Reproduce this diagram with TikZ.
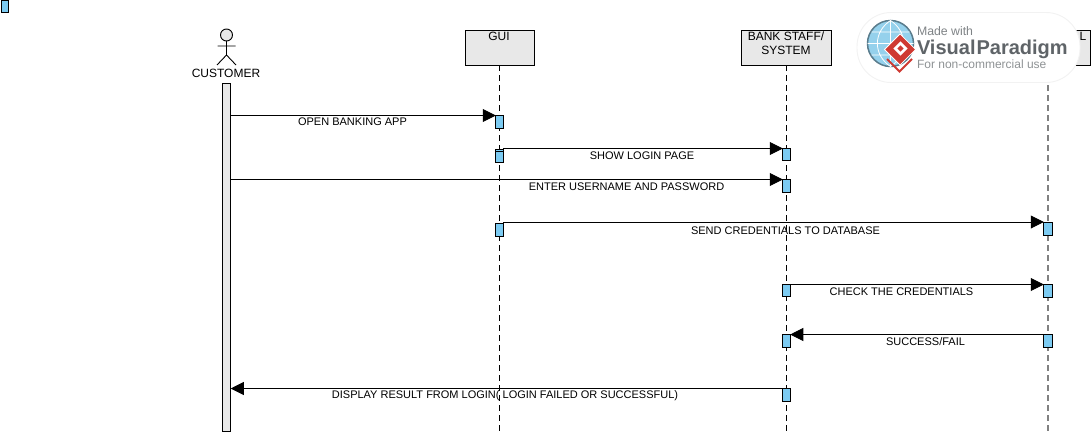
\documentclass[tikz,border=0pt]{standalone}
\usepackage{fontspec}
\setmainfont{Liberation Sans}
\usetikzlibrary{arrows.meta}
\definecolor{barblue}{HTML}{7CCBF2}
\definecolor{boxgray}{HTML}{E8E8E8}
\definecolor{logoblue}{HTML}{4FB3E0}
\definecolor{logored}{HTML}{CF3A32}
\definecolor{logogray}{HTML}{5F6468}

\begin{document}
\begin{tikzpicture}[x=1pt, y=-1pt, line width=.9pt,
  every node/.style={inner sep=0pt, outer sep=0pt},
  lifebox/.style={draw, fill=boxgray, anchor=north, minimum height=35pt,
    font=\fontsize{12pt}{14pt}\selectfont},
  lifeline/.style={dash pattern=on 6pt off 4pt},
  actbar/.style={draw, fill=barblue, anchor=north, minimum width=7.5pt, minimum height=13pt},
  msg/.style={-{Triangle[length=13pt, width=13pt]}},
  msglabel/.style={font=\fontsize{11pt}{13pt}\selectfont}
  ]
  \useasboundingbox (0,0) rectangle (1091,431);

  \node[actbar, minimum height=11.5pt] (corner) at (5,.7) {};

  % lifelines
  \node[lifebox, minimum width=69pt] (gui) at (499.5,30) {};
  \node[lifebox, minimum width=90pt] (bank) at (786,30) {};
  \node[lifebox, minimum width=84pt] (db) at (1048,30) {};
  \node[font=\fontsize{12pt}{14pt}\selectfont] (guitext) at (499,36.5) {GUI};
  \node[font=\fontsize{12pt}{14pt}\selectfont, align=center, anchor=north] (banktext) at (786,31.5) {BANK STAFF/\\SYSTEM};
  \node[font=\fontsize{12pt}{14pt}\selectfont] (dbtext) at (1083,36.5) {L};
  \coordinate (guiend) at (499.5,431);
  \coordinate (bankend) at (786,431);
  \coordinate (dbend) at (1048,431);
  \draw[lifeline] (gui.south) -- (guiend);
  \draw[lifeline] (bank.south) -- (bankend);
  \draw[lifeline, draw=gray, line width=1.2pt] (db.south) -- (dbend);

  % actor
  \node[draw, circle, fill=boxgray, minimum size=12pt] (head) at (226.5,35) {};
  \coordinate (hip) at (226.5,55);
  \coordinate (armL) at (217.5,46);
  \coordinate (armR) at (235.5,46);
  \coordinate (legL) at (217,65);
  \coordinate (legR) at (236,65);
  \draw (head.south) -- (hip) (armL) -- (armR) (legL) -- (hip) -- (legR);
  \node[font=\fontsize{12pt}{14pt}\selectfont] (customer) at (226,73) {CUSTOMER};
  \node[draw, fill=boxgray, anchor=north, minimum width=8.5pt, minimum height=348pt] (cbar) at (226.5,83) {};

  % activation bars
  \node[actbar] (g1) at (499.5,115.5) {};
  \node[actbar] (g2) at (499.5,149) {};
  \node[actbar, minimum height=11pt] (g2b) at (499.5,151) {};
  \node[actbar] (g3) at (499.5,223) {};
  \node[actbar, minimum height=12pt] (b1) at (786.5,148.5) {};
  \node[actbar] (b2) at (786.5,179.5) {};
  \node[actbar, minimum height=12pt] (b3) at (786.5,284.5) {};
  \node[actbar] (b4) at (786.5,334.5) {};
  \node[actbar] (b5) at (786.5,388.5) {};
  \node[actbar, minimum width=8.5pt] (d1) at (1048,222) {};
  \node[actbar, minimum width=8.5pt] (d2) at (1048,284.5) {};
  \node[actbar, minimum width=8.5pt] (d3) at (1048,334.5) {};

  % messages
  \draw[msg] (cbar.east |- g1.north) -- (g1.north west);
  \draw[msg] (g2.east |- b1.north) -- (b1.north west);
  \draw[msg] (cbar.east |- b2.north) -- (b2.north west);
  \draw[msg] (g3.east |- d1.north) -- (d1.north west);
  \draw[msg] (b3.north east) -- (d2.north west);
  \draw[msg] (d3.north west) -- (b4.north east);
  \draw[msg] (b5.north west) -- (cbar.east |- b5.north);

  \node[msglabel] (m1) at (352.5,122) {OPEN BANKING APP};
  \node[msglabel] (m2) at (642,155.5) {SHOW LOGIN PAGE};
  \node[msglabel] (m3) at (626.5,186.5) {ENTER USERNAME AND PASSWORD};
  \node[msglabel] (m4) at (785.5,231) {SEND CREDENTIALS TO DATABASE};
  \node[msglabel] (m5) at (901.5,291.5) {CHECK THE CREDENTIALS};
  \node[msglabel] (m6) at (925.5,341.5) {SUCCESS/FAIL};
  \node[msglabel] (m7) at (505,395.5) {DISPLAY RESULT FROM LOGIN( LOGIN FAILED OR SUCCESSFUL)};

  % watermark
  \node[fill=white, draw=black!5, rounded corners=34pt, minimum width=223pt, minimum height=70pt] (badge) at (968.5,47.5) {};
  \node[circle, fill=logoblue!60!white, draw=logogray!70!logoblue, line width=1.5pt, minimum size=46pt] (globe) at (890.5,43.5) {};
  \draw[white, line width=.8pt] (globe.north) -- (globe.south) (globe.west) -- (globe.east)
    (globe.north) .. controls (873,32) and (873,55) .. (globe.south)
    (globe.north) .. controls (908,32) and (908,55) .. (globe.south)
    (871.5,32) -- (909.5,32) (871.5,55) -- (909.5,55);
  \coordinate (chevL) at (887,59);
  \coordinate (chevB) at (899.5,71.5);
  \coordinate (chevR) at (912,59);
  \draw[logored, line width=2pt] (chevL) -- (chevB) -- (chevR);
  \node[fill=logored, draw=white, line width=.8pt, rotate=45, minimum size=22pt] (mark) at (900,49.5) {};
  \node[fill=white, rotate=45, minimum size=10pt] (markin) at (900.5,48.5) {};
  \node[fill=logored, rotate=45, minimum size=4.5pt] (markdot) at (900.5,48.5) {};
  \node[anchor=base west, text=logogray!80!white, font=\fontsize{12.3pt}{14pt}\selectfont] (made) at (917,35) {Made with};
  \node[anchor=base west, text=logogray, font=\bfseries\fontsize{20pt}{22pt}\selectfont] (vp) at (917,54) {Visual\kern1pt Paradigm};
  \node[anchor=base west, text=logogray!70!white, font=\fontsize{12pt}{14pt}\selectfont] (nc) at (917,68) {For non-commercial use};
\end{tikzpicture}
\end{document}
